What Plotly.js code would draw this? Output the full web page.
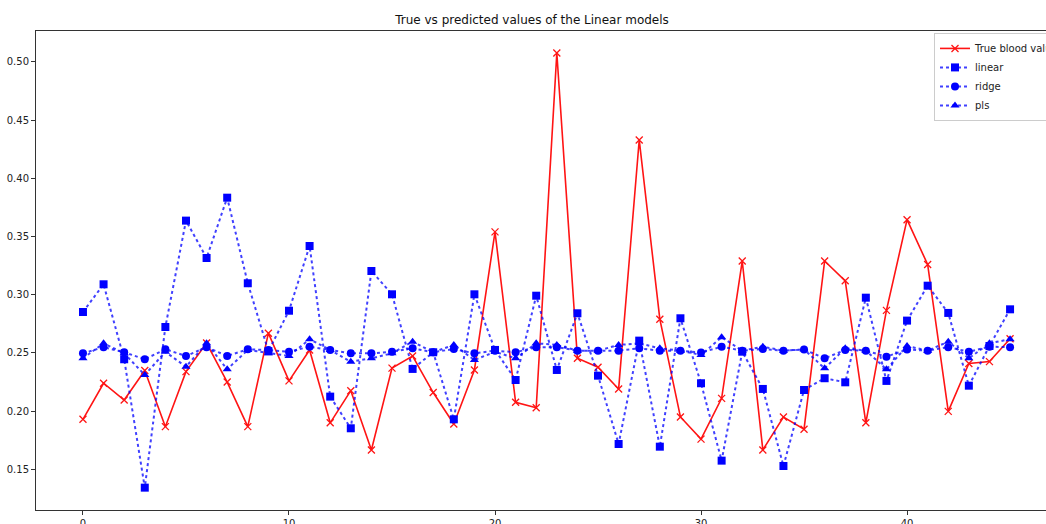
<!DOCTYPE html>
<html>
<head>
<meta charset="utf-8">
<script src="https://cdn.plot.ly/plotly-3.0.1.min.js"></script>
<style>
html, body { margin: 0; padding: 0; overflow: hidden; background: #fff; }
#chart { width: 1100px; height: 524px; }
</style>
</head>
<body>
<div id="chart"></div>
<script>
const idx = Array.from({length: 46}, (_, i) => i);

const trueValues = [0.193, 0.224, 0.2096, 0.235, 0.1867, 0.234, 0.2585, 0.225, 0.1867, 0.267,
  0.226, 0.2526, 0.190, 0.2176, 0.1667, 0.237, 0.2474, 0.216, 0.189, 0.2354,
  0.354, 0.2076, 0.203, 0.5077, 0.2455, 0.2378, 0.219, 0.433, 0.279, 0.195,
  0.176, 0.211, 0.329, 0.1667, 0.195, 0.1845, 0.329, 0.312, 0.190, 0.2866,
  0.3645, 0.326, 0.1998, 0.241, 0.2426, 0.2622];

const linearPred = [0.2852, 0.309, 0.2446, 0.1343, 0.2723, 0.3637, 0.3316, 0.3834, 0.3099, 0.2515,
  0.2863, 0.3419, 0.2125, 0.1853, 0.3204, 0.3004, 0.2363, 0.2506, 0.193, 0.3004,
  0.2526, 0.2268, 0.2992, 0.2354, 0.2841, 0.2305, 0.1718, 0.2606, 0.1695, 0.2798,
  0.224, 0.1575, 0.2511, 0.2191, 0.1529, 0.2182, 0.2283, 0.2248, 0.2975, 0.226,
  0.2778, 0.3078, 0.2844, 0.2219, 0.256, 0.2875];

const ridgePred = [0.2497, 0.255, 0.2506, 0.2446, 0.2532, 0.2474, 0.255, 0.2474, 0.2532, 0.2525,
  0.2511, 0.2554, 0.2526, 0.2497, 0.2497, 0.251, 0.254, 0.2506, 0.2534, 0.2497,
  0.252, 0.2506, 0.255, 0.255, 0.252, 0.252, 0.252, 0.254, 0.252, 0.252,
  0.2503, 0.2554, 0.252, 0.2534, 0.252, 0.253, 0.2454, 0.2526, 0.252, 0.2468,
  0.253, 0.252, 0.255, 0.251, 0.2554, 0.255];

const plsPred = [0.2454, 0.2583, 0.2497, 0.2311, 0.251, 0.2382, 0.2583, 0.236, 0.2526, 0.2497,
  0.2474, 0.2618, 0.2526, 0.2425, 0.2454, 0.2497, 0.2597, 0.2506, 0.2569, 0.244,
  0.251, 0.2454, 0.2583, 0.2569, 0.252, 0.252, 0.2569, 0.2583, 0.254, 0.252,
  0.2483, 0.2635, 0.252, 0.2554, 0.252, 0.253, 0.2368, 0.254, 0.252, 0.236,
  0.256, 0.252, 0.2597, 0.2454, 0.2583, 0.2618];

const seriesNames = ['True blood values', 'linear', 'ridge', 'pls'];
const titleText = 'True vs predicted values of the Linear models';
const xTicks = [0, 10, 20, 30, 40];
const yTicks = [0.15, 0.20, 0.25, 0.30, 0.35, 0.40, 0.45, 0.50];

const dotLine = {color: 'rgba(0,0,255,0.75)', width: 2, dash: 'dot'};

const traces = [
  {x: idx, y: trueValues, name: seriesNames[0], mode: 'lines+markers',
   line: {color: 'rgb(255,20,20)', width: 1.6},
   marker: {symbol: 'x-thin', size: 7, line: {color: 'rgb(255,20,20)', width: 1.3}}},
  {x: idx, y: linearPred, name: seriesNames[1], mode: 'lines+markers',
   line: dotLine, marker: {symbol: 'square', size: 8, color: 'blue'}},
  {x: idx, y: ridgePred, name: seriesNames[2], mode: 'lines+markers',
   line: dotLine, marker: {symbol: 'circle', size: 8, color: 'blue'}},
  {x: idx, y: plsPred, name: seriesNames[3], mode: 'lines+markers',
   line: dotLine, marker: {symbol: 'triangle-up', size: 8, color: 'blue'}}
];

const fontFam = 'DejaVu Sans, sans-serif';
const W = 1100, L = 36, R = W - 1056;
const plotW = W - L - R;
const layout = {
  width: W, height: 524,
  margin: {l: L, r: R, t: 31, b: 14},
  paper_bgcolor: '#fff', plot_bgcolor: '#fff',
  font: {family: fontFam, size: 10, color: '#222'},
  title: {text: titleText, x: 532/W, xref: 'container', xanchor: 'center',
          y: 1 - 20/524, yref: 'container', yanchor: 'middle',
          font: {family: fontFam, size: 12, color: '#111'}},
  showlegend: true,
  legend: {x: (934-L)/plotW, y: 0.996, xanchor: 'left', yanchor: 'top',
           bgcolor: 'rgba(255,255,255,0.9)', bordercolor: '#ccc', borderwidth: 1,
           font: {family: fontFam, size: 10, color: '#222'}, itemwidth: 30,
           tracegroupgap: 0},
  xaxis: {range: [-2.28, 47.23], tickvals: xTicks, ticktext: xTicks.map(String),
          showgrid: false, zeroline: false, showline: true, linecolor: '#333', linewidth: 1,
          mirror: true, ticks: 'outside', ticklen: 4, tickcolor: '#333',
          tickfont: {family: fontFam, size: 10, color: '#222'}},
  yaxis: {range: [0.1151, 0.5266], tickvals: yTicks, ticktext: yTicks.map(v => v.toFixed(2)),
          showgrid: false, zeroline: false, showline: true, linecolor: '#333', linewidth: 1,
          mirror: true, ticks: 'outside', ticklen: 4, tickcolor: '#333',
          tickfont: {family: fontFam, size: 10, color: '#222'}}
};

Plotly.newPlot('chart', traces, layout, {displayModeBar: false, staticPlot: true});
</script>
</body>
</html>
